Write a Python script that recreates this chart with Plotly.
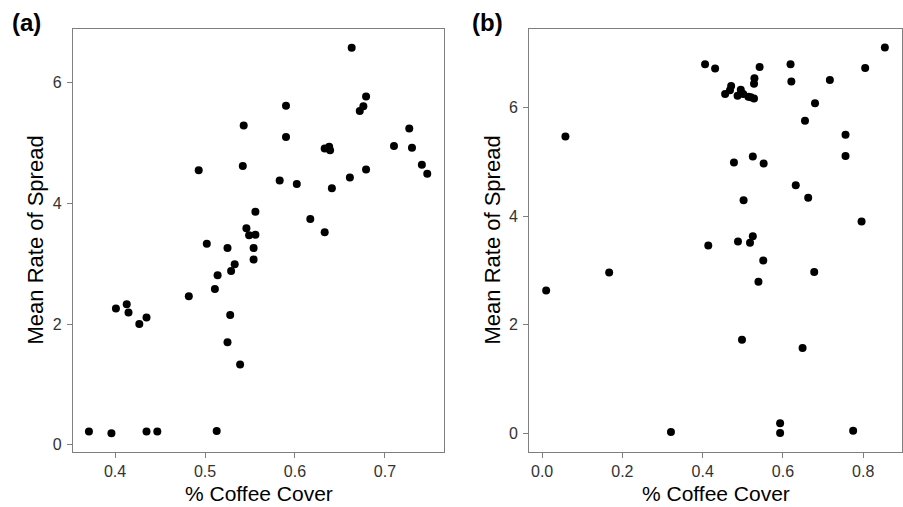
import plotly.graph_objects as go

# Panel (a)
cover_a = [0.663, 0.679, 0.676, 0.672, 0.590, 0.543, 0.590, 0.727, 0.710, 0.730,
           0.633, 0.638, 0.639, 0.493, 0.542, 0.741, 0.747, 0.679, 0.661, 0.583,
           0.602, 0.641, 0.556, 0.617, 0.633, 0.546, 0.549, 0.556, 0.502, 0.525,
           0.554, 0.554, 0.533, 0.529, 0.514, 0.511, 0.482, 0.401, 0.413, 0.415,
           0.427, 0.435, 0.528, 0.525, 0.539, 0.371, 0.396, 0.435, 0.447, 0.513]
spread_a = [6.58, 5.77, 5.61, 5.53, 5.62, 5.29, 5.10, 5.24, 4.95, 4.92,
            4.91, 4.94, 4.88, 4.55, 4.62, 4.64, 4.49, 4.56, 4.43, 4.38,
            4.32, 4.25, 3.86, 3.74, 3.52, 3.59, 3.47, 3.48, 3.33, 3.26,
            3.26, 3.07, 2.99, 2.88, 2.81, 2.58, 2.46, 2.26, 2.33, 2.19,
            2.00, 2.11, 2.15, 1.70, 1.33, 0.22, 0.19, 0.22, 0.22, 0.23]

# Panel (b)
cover_b = [0.854, 0.406, 0.431, 0.542, 0.619, 0.805, 0.529, 0.528, 0.621, 0.717,
           0.471, 0.456, 0.468, 0.495, 0.487, 0.501, 0.514, 0.528, 0.520, 0.680,
           0.655, 0.058, 0.756, 0.756, 0.525, 0.478, 0.552, 0.632, 0.663, 0.502,
           0.796, 0.414, 0.488, 0.525, 0.518, 0.551, 0.010, 0.167, 0.539, 0.678,
           0.498, 0.649, 0.321, 0.593, 0.593, 0.775]
spread_b = [7.11, 6.80, 6.72, 6.75, 6.80, 6.73, 6.54, 6.44, 6.48, 6.51,
            6.40, 6.25, 6.32, 6.33, 6.22, 6.25, 6.20, 6.17, 6.19, 6.08,
            5.76, 5.47, 5.50, 5.11, 5.10, 4.99, 4.97, 4.57, 4.34, 4.29,
            3.90, 3.46, 3.53, 3.63, 3.51, 3.18, 2.63, 2.96, 2.79, 2.97,
            1.72, 1.57, 0.02, 0.18, 0.00, 0.04]

xticks_a = [0.4, 0.5, 0.6, 0.7]
xticks_b = [0.0, 0.2, 0.4, 0.6, 0.8]
xticktext_b = ["0.0", "0.2", "0.4", "0.6", "0.8"]
yticks = [0, 2, 4, 6]

W, H = 903, 507
FONT = "Liberation Sans, Arial, sans-serif"

fig = go.Figure()
fig.add_trace(go.Scatter(x=cover_a, y=spread_a, mode="markers",
                         marker=dict(color="black", size=8),
                         xaxis="x", yaxis="y", showlegend=False))
fig.add_trace(go.Scatter(x=cover_b, y=spread_b, mode="markers",
                         marker=dict(color="black", size=8),
                         xaxis="x2", yaxis="y2", showlegend=False))

axis_common = dict(showgrid=False, zeroline=False, showline=True, mirror=True,
                   linecolor="#7f7f7f", linewidth=1.3, ticks="outside",
                   ticklen=5, tickcolor="#7f7f7f", tickwidth=1.3,
                   tickfont=dict(family=FONT, size=16, color="#333333"))

dom_y = [(H - 452) / H, (H - 29) / H]
fig.update_layout(
    width=W, height=H,
    margin=dict(l=0, r=0, t=0, b=0),
    paper_bgcolor="white", plot_bgcolor="white",
    xaxis=dict(domain=[73 / W, 444 / W], range=[0.3533, 0.7656],
               tickvals=xticks_a, anchor="y", ticklabelstandoff=0, **axis_common),
    yaxis=dict(domain=dom_y, range=[-0.12, 6.89], tickvals=yticks,
               anchor="x", ticklabelstandoff=2, **axis_common),
    xaxis2=dict(domain=[529.3 / W, 901.7 / W], range=[-0.032, 0.896],
                tickvals=xticks_b, ticktext=xticktext_b, anchor="y2",
                ticklabelstandoff=0, **axis_common),
    yaxis2=dict(domain=dom_y, range=[-0.35, 7.45], tickvals=yticks,
                anchor="x2", ticklabelstandoff=2, **axis_common),
    annotations=[
        dict(text="% Coffee Cover", x=258.5 / W, y=0, xref="paper", yref="paper",
             showarrow=False, font=dict(family=FONT, size=21, color="black"),
             xanchor="center", yanchor="bottom"),
        dict(text="% Coffee Cover", x=715.5 / W, y=0, xref="paper", yref="paper",
             showarrow=False, font=dict(family=FONT, size=21, color="black"),
             xanchor="center", yanchor="bottom"),
        dict(text="Mean Rate of Spread", x=35 / W, y=1 - 240.5 / H, xref="paper", yref="paper",
             showarrow=False, textangle=-90, font=dict(family=FONT, size=22, color="black"),
             xanchor="center", yanchor="middle"),
        dict(text="Mean Rate of Spread", x=492 / W, y=1 - 240.5 / H, xref="paper", yref="paper",
             showarrow=False, textangle=-90, font=dict(family=FONT, size=22, color="black"),
             xanchor="center", yanchor="middle"),
        dict(text="<b>(a)</b>", x=10 / W, y=1 - 22 / H, xref="paper", yref="paper",
             showarrow=False, font=dict(family=FONT, size=24, color="black"),
             xanchor="left", yanchor="middle"),
        dict(text="<b>(b)</b>", x=470 / W, y=1 - 22 / H, xref="paper", yref="paper",
             showarrow=False, font=dict(family=FONT, size=24, color="black"),
             xanchor="left", yanchor="middle"),
    ],
)

fig.write_html("out.html")
